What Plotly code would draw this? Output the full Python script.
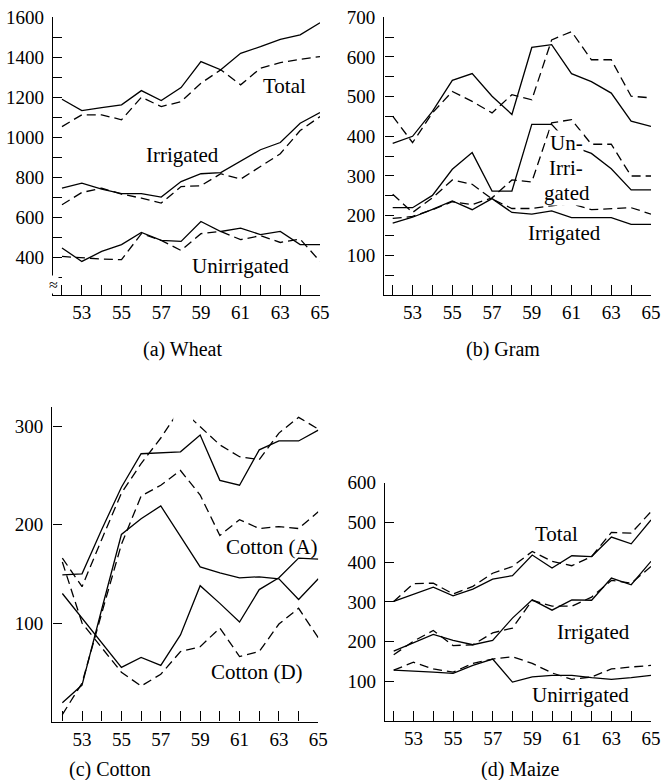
import plotly.graph_objects as go

# ---------------- data ----------------
years = [52, 53, 54, 55, 56, 57, 58, 59, 60, 61, 62, 63, 64, 65]
x_tick_text = ["", "53", "", "55", "", "57", "", "59", "", "61", "", "63", "", "65"]

# (a) Wheat
wheat_total_solid = [1190, 1133, 1148, 1162, 1233, 1183, 1248, 1378, 1337, 1420, 1453, 1490, 1512, 1573]
wheat_total_dash = [1053, 1112, 1112, 1087, 1200, 1153, 1178, 1270, 1337, 1262, 1345, 1373, 1390, 1403]
wheat_irr_solid = [745, 770, 740, 717, 717, 700, 778, 817, 823, 878, 937, 973, 1070, 1123]
wheat_irr_dash = [662, 723, 745, 715, 695, 670, 753, 757, 817, 790, 853, 917, 1033, 1103]
wheat_unirr_solid = [445, 378, 428, 462, 523, 483, 478, 578, 528, 545, 512, 528, 462, 462]
wheat_unirr_dash = [403, 395, 390, 387, 517, 483, 433, 517, 528, 487, 507, 473, 490, 378]

# (b) Gram
gram_total_solid = [382, 400, 463, 541, 558, 501, 455, 624, 631, 558, 538, 509, 438, 425]
gram_total_dash = [451, 384, 459, 513, 488, 459, 505, 492, 643, 664, 593, 593, 501, 497]
gram_unirr_solid = [220, 220, 251, 317, 359, 262, 262, 430, 430, 375, 357, 318, 265, 265]
gram_unirr_dash = [193, 198, 215, 235, 228, 245, 290, 285, 434, 442, 380, 380, 300, 300]
gram_irr_solid = [181, 196, 216, 237, 215, 243, 208, 204, 212, 195, 195, 195, 178, 178]
gram_irr_dash = [254, 208, 245, 290, 279, 242, 218, 218, 225, 230, 215, 218, 220, 204]

# (c) Cotton
cotton_a1_solid = [149, 150, 195, 238, 272, 273, 274, 291, 245, 240, 276, 285, 285, 296]
cotton_a1_dash = [166, 137, 185, 232, 262, 288, 318, 299, 281, 269, 266, 293, 309, 297]
cotton_a2_solid = [19, 37, 114, 190, 206, 219, 188, 157, 151, 146, 147, 145, 124, 145]
cotton_a2_dash = [7, 39, 110, 180, 229, 240, 255, 230, 189, 205, 196, 198, 196, 213]
cotton_d_solid = [130, 105, 80, 55, 65, 57, 88, 138, 120, 101, 134, 146, 166, 165]
cotton_d_dash = [162, 100, 75, 50, 36, 48, 71, 76, 95, 66, 71, 99, 115, 85]

# (d) Maize
maize_total_solid = [301, 320, 337, 315, 332, 357, 366, 418, 385, 416, 414, 463, 446, 506]
maize_total_dash = [301, 346, 347, 320, 339, 372, 389, 427, 402, 391, 414, 475, 473, 527]
maize_irr_solid = [176, 198, 218, 203, 192, 203, 259, 305, 279, 305, 304, 360, 343, 402]
maize_irr_dash = [167, 201, 228, 190, 192, 222, 234, 304, 289, 289, 312, 354, 347, 389]
maize_unirr_solid = [128, 126, 123, 120, 140, 156, 98, 111, 115, 115, 109, 105, 109, 115]
maize_unirr_dash = [128, 148, 131, 123, 145, 156, 162, 145, 121, 105, 111, 131, 136, 140]

wheat_ticks = list(range(300, 1601, 100))
wheat_tick_text = [str(v) if (v % 200 == 0 and v >= 400) else "" for v in wheat_ticks]
gram_ticks = list(range(50, 701, 50))
gram_tick_text = [str(v) if v % 100 == 0 else "" for v in gram_ticks]
cotton_ticks = [100, 200, 300]
maize_ticks = [100, 200, 300, 400, 500, 600]

# ---------------- layout helpers ----------------
W, H = 662, 780
FONT = "Liberation Serif, Times New Roman, serif"


def fx(px):
    return px / W


def fy(py):
    return 1 - py / H


fig = go.Figure()

panels = {
    "a": dict(ax="", series=[wheat_total_solid, wheat_total_dash, wheat_irr_solid, wheat_irr_dash,
                              wheat_unirr_solid, wheat_unirr_dash]),
    "b": dict(ax="2", series=[gram_total_solid, gram_total_dash, gram_unirr_solid, gram_unirr_dash,
                               gram_irr_solid, gram_irr_dash]),
    "c": dict(ax="3", series=[cotton_a1_solid, cotton_a1_dash, cotton_a2_solid, cotton_a2_dash,
                               cotton_d_solid, cotton_d_dash]),
    "d": dict(ax="4", series=[maize_total_solid, maize_total_dash, maize_irr_solid, maize_irr_dash,
                               maize_unirr_solid, maize_unirr_dash]),
}

for key, p in panels.items():
    for i, s in enumerate(p["series"]):
        fig.add_trace(go.Scatter(
            x=years, y=s, mode="lines",
            line=dict(color="black", width=1.3, dash="solid" if i % 2 == 0 else "9px,5px"),
            xaxis="x" + p["ax"], yaxis="y" + p["ax"],
            showlegend=False, hoverinfo="skip",
        ))

common_x = dict(
    showline=True, linecolor="black", linewidth=1.4, mirror=False,
    ticks="inside", ticklen=10, tickwidth=1.3, tickcolor="black",
    tickvals=years, ticktext=x_tick_text, showgrid=False, zeroline=False,
    tickfont=dict(family=FONT, size=19, color="black"), automargin=False,
)
common_y = dict(
    showline=True, linecolor="black", linewidth=1.4, mirror=False,
    ticks="inside", ticklen=9, tickwidth=1.3, tickcolor="black",
    showgrid=False, zeroline=False, ticklabelstandoff=4,
    tickfont=dict(family=FONT, size=19, color="black"), automargin=False,
)

fig.update_layout(
    width=W, height=H, margin=dict(l=0, r=0, t=0, b=0),
    paper_bgcolor="white", plot_bgcolor="white",
    xaxis=dict(common_x, domain=[fx(53), fx(320)], range=[51.547, 65], anchor="y"),
    yaxis=dict(common_y, domain=[fy(295), fy(17.3)], range=[210, 1600], anchor="x",
               tickvals=wheat_ticks, ticktext=wheat_tick_text),
    xaxis2=dict(common_x, domain=[fx(384.3), fx(651)], range=[51.577, 65], anchor="y2"),
    yaxis2=dict(common_y, domain=[fy(295), fy(17.3)], range=[0, 700], anchor="x2",
                tickvals=gram_ticks, ticktext=gram_tick_text),
    xaxis3=dict(common_x, domain=[fx(52.3), fx(318.3)], range=[51.49, 65], anchor="y3"),
    yaxis3=dict(common_y, domain=[fy(721.5), fy(406.5)], range=[0, 320], anchor="x3",
                tickvals=cotton_ticks, ticktext=[str(v) for v in cotton_ticks]),
    xaxis4=dict(common_x, domain=[fx(385), fx(651)], range=[51.56, 65], anchor="y4"),
    yaxis4=dict(common_y, domain=[fy(721), fy(482.7)], range=[0, 600], anchor="x4",
                tickvals=maize_ticks, ticktext=[str(v) for v in maize_ticks]),
)

# gap in the upper dashed cotton line
fig.add_shape(type="rect", xref="x3", yref="y3", x0=57.63, x1=58.64, y0=302.5, y1=330,
              fillcolor="white", line=dict(width=0), layer="above")


def label(text, px, py, size=21, bg=None):
    fig.add_annotation(
        x=fx(px), y=fy(py), xref="paper", yref="paper", text=text, showarrow=False,
        xanchor="center", yanchor="middle",
        font=dict(family=FONT, size=size, color="black"),
        bgcolor=bg if bg else "rgba(0,0,0,0)", borderpad=0,
    )


# panel (a)
label("Total", 284, 86)
label("Irrigated", 182, 155)
label("Unirrigated", 240, 266)
label("≈", 53, 284, size=16, bg="white")
# panel (b)
label("Un-", 566, 143, bg="white")
label("Irri-", 566, 168, bg="white")
label("gated", 567, 193, bg="white")
label("Irrigated", 564, 233)
# panel (c)
label("Cotton (A)", 272, 547)
label("Cotton (D)", 257, 672)
# panel (d)
label("Total", 556, 534)
label("Irrigated", 593, 632)
label("Unirrigated", 580, 695)
# captions
label("(a) Wheat", 182, 349, size=20)
label("(b) Gram", 503, 349, size=20)
label("(c) Cotton", 110, 769, size=20)
label("(d) Maize", 520, 769, size=20)

fig.write_html("out.html", config={"displayModeBar": False},
               post_script="document.body.style.margin='0px';")
